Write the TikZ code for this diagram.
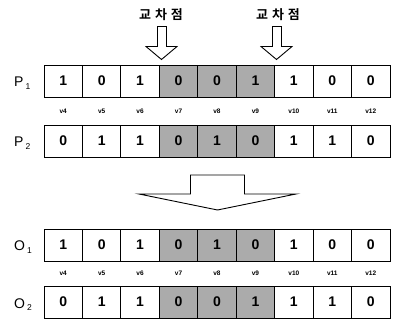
\documentclass[tikz,border=0pt]{standalone}
\usepackage{fontspec}
\setmainfont{Liberation Sans}
\newfontfamily\kr{Noto Sans CJK KR}[BoldFont={Noto Sans CJK KR Bold}]
\begin{document}
\begin{tikzpicture}[x=1pt,y=-1pt,
  cellbox/.style={draw=black,line width=0.9pt,minimum width=38.44pt,minimum height=32pt,inner sep=0pt,outer sep=0pt,font=\fontsize{14}{14}\selectfont\bfseries},
  shadebox/.style={cellbox,fill=black!33},
  vlab/.style={font=\fontsize{6.5}{7}\selectfont\bfseries,inner sep=0pt},
  rowlab/.style={font=\fontsize{14}{14}\selectfont,inner sep=0pt,anchor=base west},
  krlab/.style={font=\kr\bfseries\fontsize{13}{13}\selectfont,inner sep=0pt},
  blockarrow/.style={draw=black,line width=0.9pt,fill=white,line join=miter}]
\useasboundingbox (0,0) rectangle (393,320);
% crossover labels and arrows
\node[krlab] (k1) at (161,15) {교\hspace{4pt}차\hspace{4pt}점};
\node[krlab] (k2) at (278,15) {교\hspace{4pt}차\hspace{4pt}점};
\draw[blockarrow] (157.5,26.5) -- (166.5,26.5) -- (166.5,46.5) -- (177,46.5) -- (161.5,59.5) -- (146,46.5) -- (157.5,46.5) -- cycle;
\draw[blockarrow] (272.5,26.5) -- (281.5,26.5) -- (281.5,46.5) -- (292,46.5) -- (276.5,59.5) -- (261,46.5) -- (272.5,46.5) -- cycle;
% rows
\def\xo{44}
\foreach \r/\yc/\vals/\lab/\sub in {p1/81/{1,0,1,0,0,1,1,0,0}/P/1, p2/141/{0,1,1,0,1,0,1,1,0}/P/2, o1/245/{1,0,1,0,1,0,1,0,0}/O/1, o2/302/{0,1,1,0,0,1,1,1,0}/O/2}{
  \foreach \v [count=\i] in \vals {
    \pgfmathsetmacro{\xc}{\xo+(\i-0.5)*38.44}
    \ifnum\i>3 \ifnum\i<7
      \node[shadebox] (\r c\i) at (\xc,\yc) {\v};
    \else
      \node[cellbox] (\r c\i) at (\xc,\yc) {\v};
    \fi\else
      \node[cellbox] (\r c\i) at (\xc,\yc) {\v};
    \fi
  }
  \node[rowlab] (\r lab) at (14,\yc+6) {\lab\kern2pt\raisebox{-2.5pt}{\fontsize{8.5}{8.5}\selectfont\sub}};
}
% v labels
\foreach \n [count=\i] in {4,...,12}{
  \pgfmathsetmacro{\xc}{\xo+(\i-0.5)*38.44}
  \node[vlab] (va\i) at (\xc,111) {v\n};
  \node[vlab] (vb\i) at (\xc,273.5) {v\n};
}
% big arrow
\draw[blockarrow] (190.5,175) -- (244.5,175) -- (244.5,194) -- (296,194) -- (217.5,210) -- (139,194) -- (190.5,194) -- cycle;
\end{tikzpicture}
\end{document}
